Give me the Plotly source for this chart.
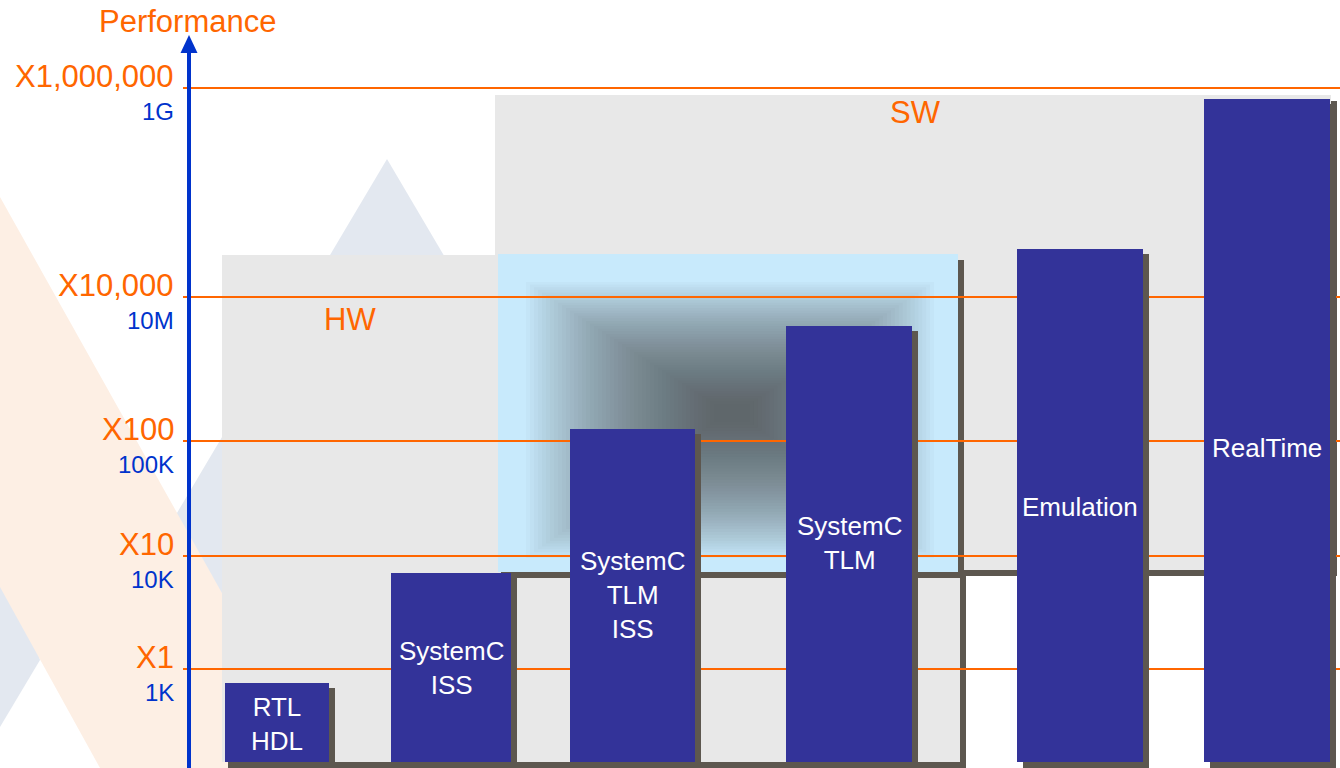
import plotly.graph_objects as go

# ---------------- data ----------------
categories = ["RTL<br>HDL", "SystemC<br>ISS", "SystemC<br>TLM<br>ISS", "SystemC<br>TLM", "Emulation", "RealTime"]
bar_top = [85, 195, 339, 442, 519, 669]          # performance level (chart units)
bar_floor = 6

level_values = [99, 212, 327, 471, 680]
level_speedup = ["X1", "X10", "X100", "X10,000", "X1,000,000"]
level_rate = ["1K", "10K", "100K", "10M", "1G"]

# ---------------- layout helpers (positions / styles) ----------------
bar_center = [277, 451, 632.5, 849, 1080, 1267]
bar_width = [104, 120, 125, 126, 126, 126]
label_y = [44.5, 100.5, 173.5, 225, 261, 320]   # vertical position of the in-bar labels

W, H = 1340, 768
ORANGE = "#ff6600"
AXBLUE = "#0033cc"
BARBLUE = "#333399"
SHADOW = "#5d574f"
LGRAY = "#e8e8e8"
LBLUE = "#c8eafc"
PEACH = "#fdefe4"
BGRAY = "#e3e8f0"
FONT = "Liberation Sans, Arial, sans-serif"


def Y(py):
    return H - py


def rect(x0, y0, x1, y1, color, opacity=1.0):
    return dict(type="rect", xref="x", yref="y", x0=x0, x1=x1, y0=Y(y1), y1=Y(y0),
                fillcolor=color, opacity=opacity, line=dict(width=0), layer="below")


def poly(points, color):
    d = "M " + " L ".join(f"{x},{Y(y)}" for x, y in points) + " Z"
    return dict(type="path", xref="x", yref="y", path=d, fillcolor=color,
                line=dict(width=0), layer="below")


shapes = []
# decorative background triangles
shapes.append(poly([(387, 159), (66, 700), (706, 700)], BGRAY))
shapes.append(poly([(0, 580), (0, 727), (40, 660), (20, 580)], BGRAY))
shapes.append(poly([(0, 197), (320, 768), (100, 768), (0, 587)], PEACH))

# HW region
shapes.append(rect(228, 261, 966, 768, SHADOW))
shapes.append(rect(222, 255, 960, 762, LGRAY))
# SW region
shapes.append(rect(501, 101, 1337, 576, SHADOW))
shapes.append(rect(495, 95, 1331, 570, LGRAY))
# HW/SW overlap region
shapes.append(rect(504, 260, 964, 578, SHADOW))
shapes.append(rect(498, 254, 958, 572, LBLUE))
# rectangular gradient toward the centre of the overlap region
outer = (526, 282, 934, 558)
inner = (714, 404, 750, 422)
N = 48
for i in range(N):
    t = i / (N - 1)
    x0 = outer[0] + (inner[0] - outer[0]) * t
    y0 = outer[1] + (inner[1] - outer[1]) * t
    x1 = outer[2] + (inner[2] - outer[2]) * t
    y1 = outer[3] + (inner[3] - outer[3]) * t
    shapes.append(rect(x0, y0, x1, y1, "#3a4249", 0.029))

# level lines
for v in level_values:
    shapes.append(dict(type="line", xref="x", yref="y", x0=183, x1=W, y0=v, y1=v,
                       line=dict(color=ORANGE, width=2), layer="below"))

# performance axis with arrow
shapes.append(dict(type="line", xref="x", yref="y", x0=189, x1=189, y0=0, y1=Y(50),
                   line=dict(color=AXBLUE, width=4), layer="above"))
shapes.append(dict(type="path", xref="x", yref="y",
                   path=f"M 180.5,{Y(53)} L 197.5,{Y(53)} L 189,{Y(35)} Z",
                   fillcolor=AXBLUE, line=dict(width=0), layer="above"))

fig = go.Figure()

# bar shadows
fig.add_trace(go.Bar(
    x=[c + 5.5 for c in bar_center],
    y=[t - 5 for t in bar_top],
    base=0,
    width=bar_width,
    marker=dict(color=SHADOW, line=dict(width=0)),
    hoverinfo="skip", showlegend=False,
))
# bars
fig.add_trace(go.Bar(
    x=bar_center,
    y=[t - bar_floor for t in bar_top],
    base=bar_floor,
    width=bar_width,
    marker=dict(color=BARBLUE, line=dict(width=0)),
    hoverinfo="skip", showlegend=False,
))

annotations = []
for c, ly, txt in zip(bar_center, label_y, categories):
    annotations.append(dict(x=c, y=ly, xref="x", yref="y", text=txt, showarrow=False,
                            xanchor="center", yanchor="middle",
                            font=dict(family=FONT, size=26, color="white")))

for v, s, r in zip(level_values, level_speedup, level_rate):
    annotations.append(dict(x=176, y=v, xref="x", yref="y", text=s, showarrow=False,
                            xanchor="right", yanchor="middle", yshift=12,
                            font=dict(family=FONT, size=31, color=ORANGE)))
    annotations.append(dict(x=176, y=v, xref="x", yref="y", text=r, showarrow=False,
                            xanchor="right", yanchor="middle", yshift=-23,
                            font=dict(family=FONT, size=24, color=AXBLUE)))

annotations.append(dict(x=187.5, y=Y(21), xref="x", yref="y", text="Performance", showarrow=False,
                        xanchor="center", yanchor="middle",
                        font=dict(family=FONT, size=31, color=ORANGE)))
annotations.append(dict(x=915, y=Y(112), xref="x", yref="y", text="SW", showarrow=False,
                        xanchor="center", yanchor="middle",
                        font=dict(family=FONT, size=31, color=ORANGE)))
annotations.append(dict(x=350, y=Y(319), xref="x", yref="y", text="HW", showarrow=False,
                        xanchor="center", yanchor="middle",
                        font=dict(family=FONT, size=31, color=ORANGE)))

fig.update_layout(
    width=W, height=H,
    margin=dict(l=0, r=0, t=0, b=0, pad=0),
    paper_bgcolor="white", plot_bgcolor="white",
    barmode="overlay",
    bargap=0,
    showlegend=False,
    shapes=shapes,
    annotations=annotations,
    xaxis=dict(range=[0, W], visible=False, fixedrange=True),
    yaxis=dict(range=[0, H], visible=False, fixedrange=True),
)

fig.write_html("out.html", config={"displayModeBar": False})
